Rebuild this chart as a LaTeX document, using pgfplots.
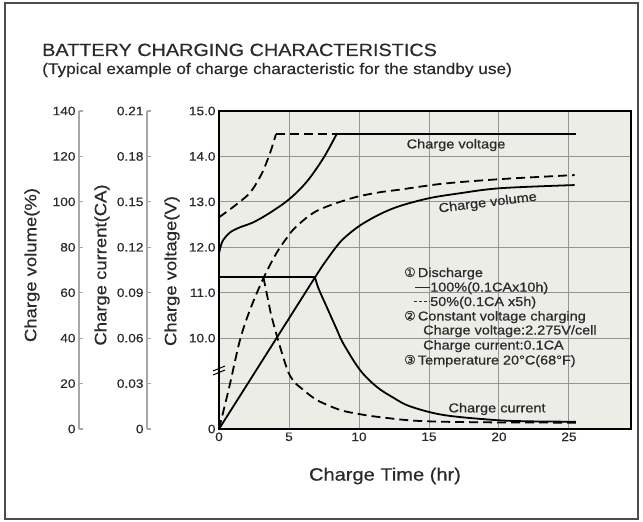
\documentclass[border=0pt]{standalone}
\usepackage{pgfplots}
\pgfplotsset{compat=1.18}
\usepackage{fontspec}
\setmainfont{Liberation Sans}[FakeStretch=1.12, FakeBold=0.5]
\newfontfamily\symfont{DejaVu Sans}[FakeBold=0.5]
\definecolor{bgc}{HTML}{EDEDE8}
\definecolor{gridc}{HTML}{959595}
\definecolor{txt}{HTML}{2A2A2A}
\definecolor{sax}{HTML}{A8A8A8}
\newcommand{\tfont}{\fontsize{12.2bp}{13bp}\selectfont}
\newcommand{\afont}{\fontsize{16.5bp}{18bp}\selectfont}
\newcommand{\nfont}{\fontsize{12.9bp}{14bp}\selectfont}
\begin{document}
\begin{tikzpicture}[x=1bp,y=1bp]
\useasboundingbox (0,0) rectangle (643,-522);
\draw[line width=1.5bp, black!70] (5,-3) rectangle (638,-519);
\node[anchor=base west, font=\fontsize{17.7bp}{20bp}\selectfont, text=txt, inner sep=0] at (42,-56) {BATTERY CHARGING CHARACTERISTICS};
\node[anchor=base west, font=\fontsize{15.4bp}{18bp}\selectfont, text=txt, inner sep=0] at (42,-74) {(Typical example of charge characteristic for the standby use)};

% secondary axis: charge volume
\begin{axis}[at={(79bp,-429bp)}, anchor=south west, scale only axis, width=10bp, height=318bp,
  xmin=0, xmax=1, ymin=0, ymax=7, hide x axis, axis y line*=left,
  ytick={0,1,2,3,4,5,6,7}, yticklabels={0,20,40,60,80,100,120,140},
  tick align=inside, major tick length=4bp,
  y axis line style={sax, line width=1.1bp}, ytick style={sax, line width=1.1bp},
  yticklabel style={font=\tfont, text=txt}]
\end{axis}
% secondary axis: charge current
\begin{axis}[at={(147bp,-429bp)}, anchor=south west, scale only axis, width=10bp, height=318bp,
  xmin=0, xmax=1, ymin=0, ymax=7, hide x axis, axis y line*=left,
  ytick={0,1,2,3,4,5,6,7}, yticklabels={0,0.03,0.06,0.09,0.12,0.15,0.18,0.21},
  tick align=inside, major tick length=4bp,
  y axis line style={sax, line width=1.1bp}, ytick style={sax, line width=1.1bp},
  yticklabel style={font=\tfont, text=txt}]
\end{axis}

\begin{axis}[at={(219bp,-429bp)}, anchor=south west, scale only axis, width=412bp, height=318bp,
  xmin=0, xmax=29.43, ymin=0, ymax=7,
  axis background/.style={fill=bgc},
  axis line style={line width=2.6bp, black},
  grid=major, grid style={gridc, line width=1bp},
  xtick={0,5,10,15,20,25}, xticklabels={0,5,10,15,20,25},
  ytick={0,1,2,3,4,5,6,7}, yticklabels={0,,10.0,11.0,12.0,13.0,14.0,15.0},
  major tick length=0pt,
  tick label style={font=\tfont, text=txt},
  clip=false]
% charge voltage
\addplot[black, line width=1.8bp, smooth, tension=0.55] coordinates {(0,3.86) (0.12,4.02) (0.3,4.16) (0.8,4.33) (1.5,4.44) (2.45,4.55) (3.64,4.76) (5.02,5.06) (6.26,5.44) (7.45,5.96) (8.4,6.49)};
\addplot[black, line width=1.8bp] coordinates {(8.4,6.49) (25.5,6.49)};
\addplot[black, line width=1.8bp, dash pattern=on 9bp off 5bp, smooth, tension=0.5] coordinates {(0,4.66) (1.02,4.89) (2.21,5.2) (3.05,5.62) (3.64,6.07) (4.07,6.49)};
\addplot[black, line width=1.8bp, dash pattern=on 9bp off 5bp] coordinates {(4.07,6.49) (8.4,6.49)};
% charge volume
\addplot[black, line width=1.8bp] coordinates {(0,0) (6.86,3.34)};
\addplot[black, line width=1.8bp, smooth, tension=0.55] coordinates {(6.86,3.34) (7.5,3.64) (8.4,4.02) (9,4.22) (10.07,4.48) (11.5,4.73) (12.93,4.91) (15,5.08) (17,5.18) (20.07,5.30) (25.4,5.37)};
\addplot[black, line width=1.8bp, dash pattern=on 9bp off 5bp, smooth, tension=0.55] coordinates {(0,0) (0.4,0.5) (0.79,1.0) (1.5,1.96) (2.21,2.62) (3.17,3.32) (4.12,3.88) (4.83,4.2) (5.5,4.45) (6.98,4.8) (9.36,5.07) (11.26,5.2) (12.93,5.27) (16,5.4) (20.07,5.5) (25.4,5.59)};
% charge current
\addplot[black, line width=1.8bp] coordinates {(0,3.34) (6.86,3.34)};
\addplot[black, line width=1.8bp, smooth, tension=0.55] coordinates {(6.86,3.34) (7.1,3.1) (7.69,2.69) (8.4,2.2) (8.88,1.88) (10.07,1.30) (11.26,0.93) (12.45,0.69) (13.64,0.50) (16,0.31) (19.6,0.2) (22,0.17) (25.5,0.16)};
\addplot[black, line width=1.8bp, dash pattern=on 9bp off 5bp, smooth, tension=0.5] coordinates {(3.17,3.34) (3.5,2.85) (3.76,2.47) (4.36,1.81) (4.95,1.25) (5.4,1.03) (5.79,0.92) (6.98,0.64) (8.64,0.42) (10,0.33) (11.26,0.27) (13.64,0.19) (16,0.16) (20,0.145) (25.5,0.14)};
% curve labels
\node[font=\fontsize{13bp}{14bp}\selectfont, text=txt] at (axis cs:16.93,6.25) {Charge voltage};
\node[font=\fontsize{13bp}{14bp}\selectfont, text=txt, rotate=7] at (axis cs:19.2,4.97) {Charge volume};
\node[font=\fontsize{13bp}{14bp}\selectfont, text=txt] at (axis cs:19.86,0.44) {Charge current};
\end{axis}

% break mark
\draw[line width=1bp, black] (213,-371)--(225,-366);
\draw[line width=1bp, black] (213,-375)--(225,-370);

% axis labels
\node[rotate=90, font=\afont, text=txt] at (32,-265) {Charge volume(\%)};
\node[rotate=90, font=\afont, text=txt] at (102,-265) {Charge current(CA)};
\node[rotate=90, font=\afont, text=txt] at (172,-271) {Charge voltage(V)};
\node[font=\fontsize{17.9bp}{20bp}\selectfont, text=txt] at (385,-476) {Charge Time (hr)};

% annotation block
\begin{scope}[every node/.style={anchor=base west, inner sep=0, font=\nfont, text=txt}]
\node at (404,-277) {{\symfont ①}\,Discharge};
\draw[line width=1bp, txt] (415,-287)--(430,-287);
\node at (430,-291.5) {100\%(0.1CAx10h)};
\draw[line width=1bp, txt, dash pattern=on 3bp off 2bp] (414,-301.5)--(430,-301.5);
\node at (430,-306) {50\%(0.1CA x5h)};
\node at (404,-320.5) {{\symfont ②}\,Constant voltage charging};
\node at (423,-334.5) {Charge voltage:2.275V/cell};
\node at (423,-349.5) {Charge current:0.1CA};
\node at (404,-364.5) {{\symfont ③}\,Temperature 20°C(68°F)};
\end{scope}
\end{tikzpicture}
\end{document}
